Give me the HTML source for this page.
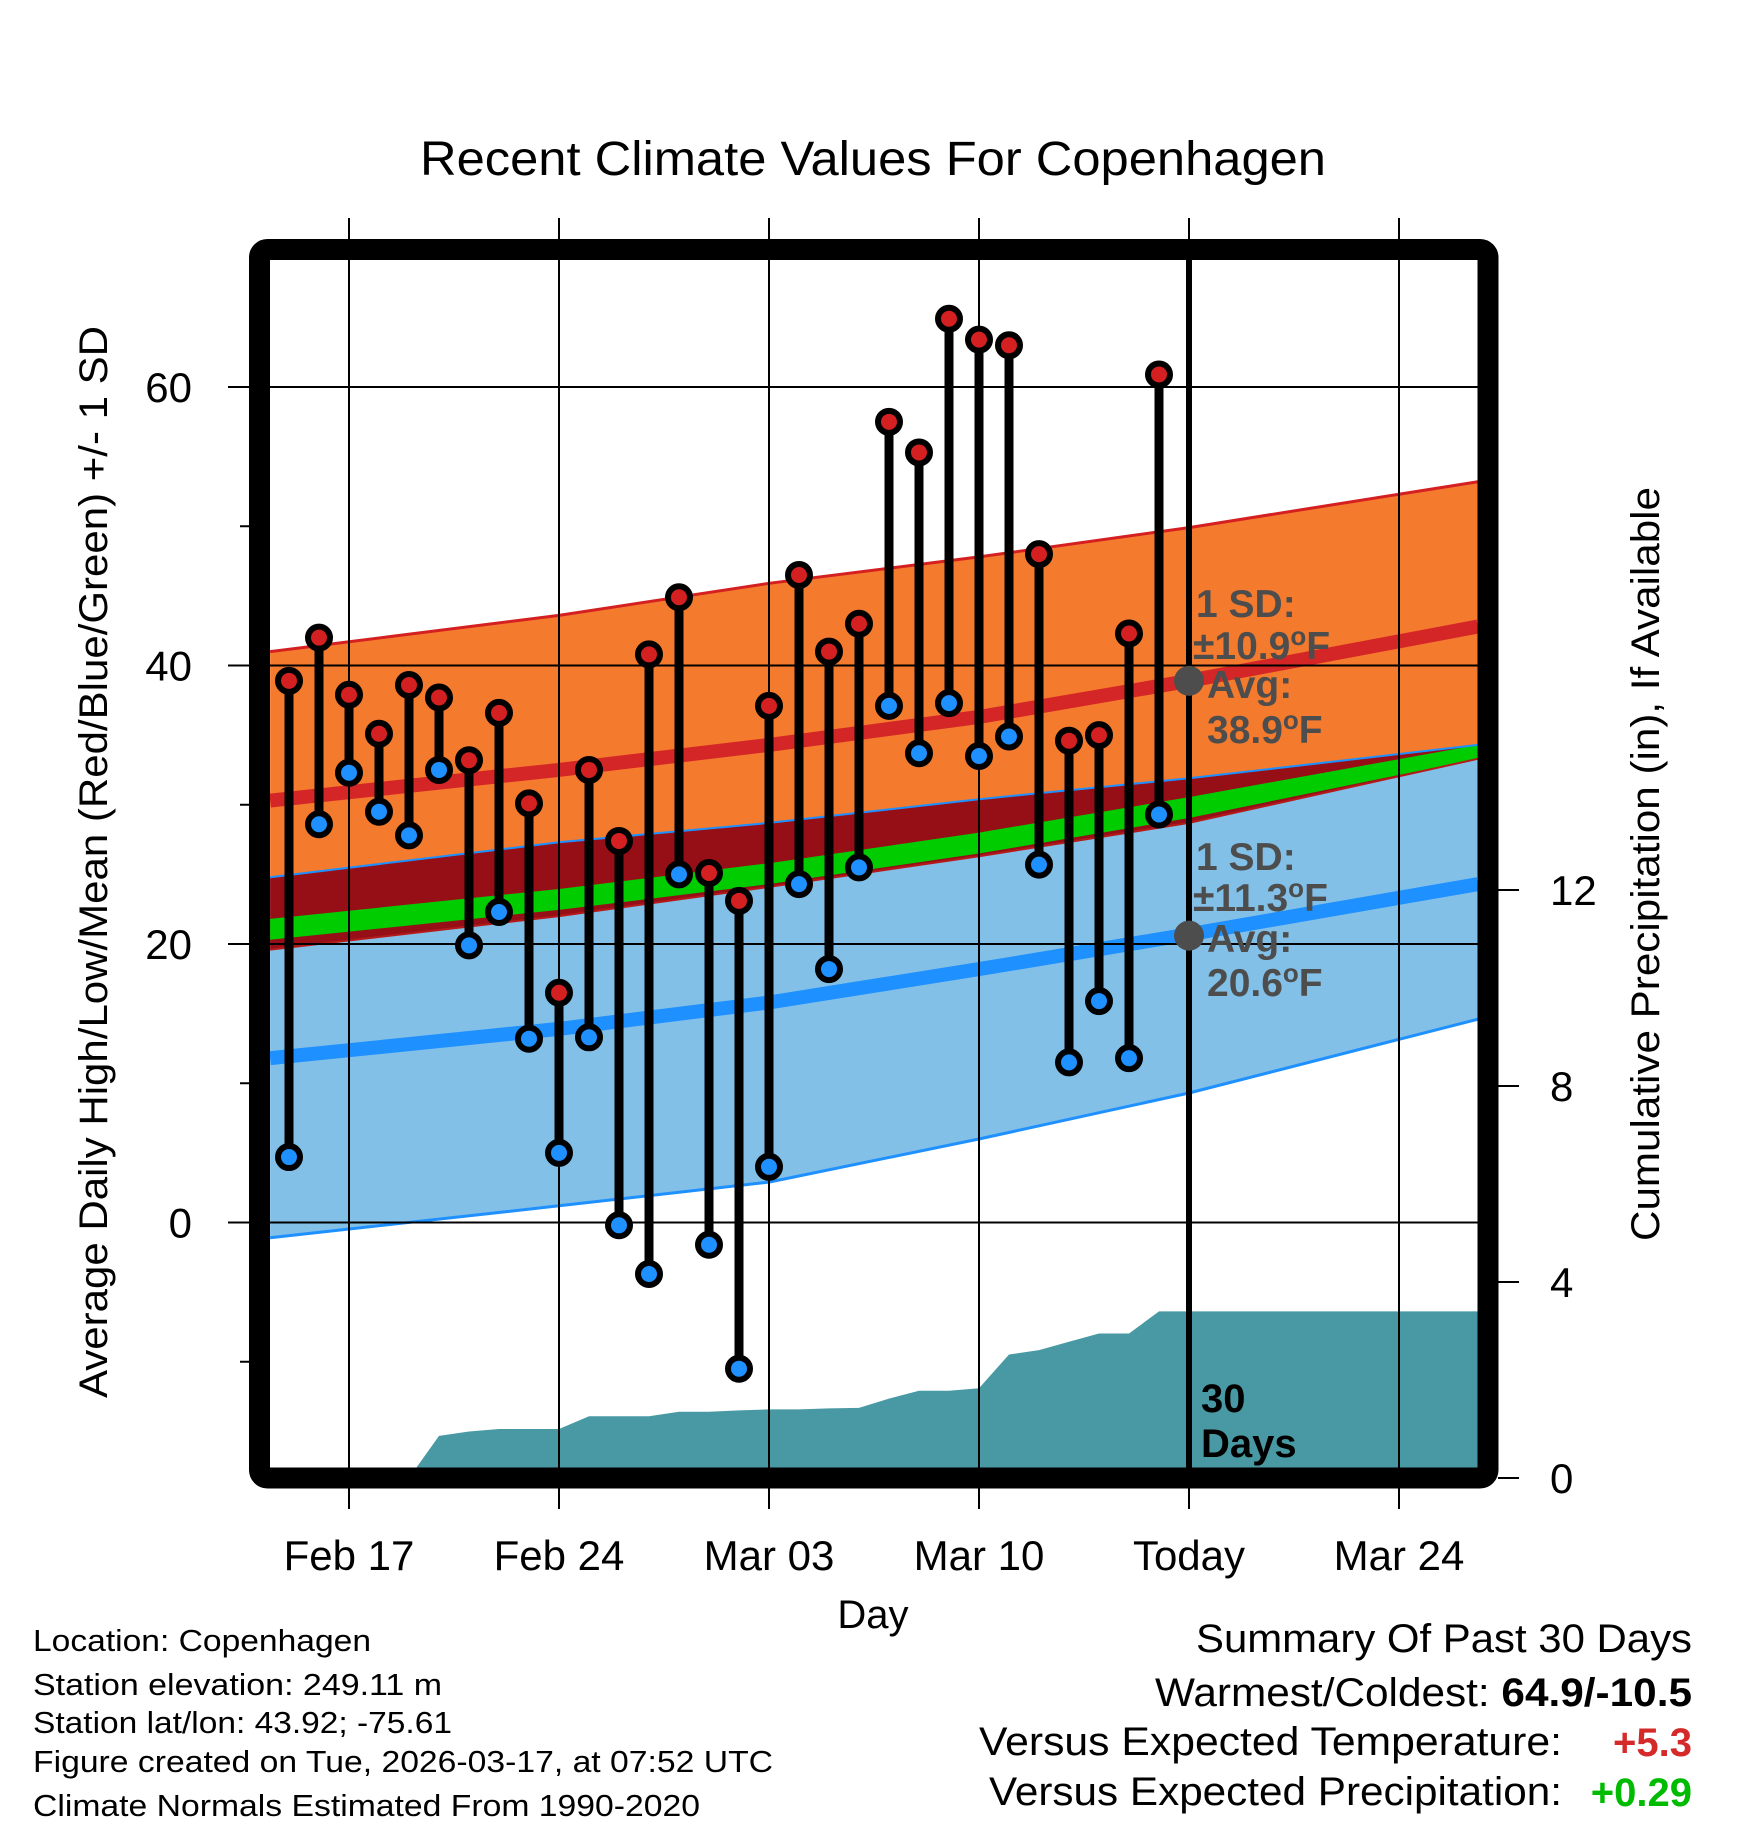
<!DOCTYPE html>
<html><head><meta charset="utf-8"><style>
html,body{margin:0;padding:0;background:#fff;}
svg{display:block;font-family:"Liberation Sans",Arial,sans-serif;}
</style></head><body>
<svg id="chart" width="1748" height="1828" viewBox="0 0 1748 1828" xmlns="http://www.w3.org/2000/svg">
<defs><clipPath id="plotclip"><rect x="270" y="260" width="1208" height="1208"/></clipPath></defs>
<rect x="0" y="0" width="1748" height="1828" fill="#fff"/>
<text x="873" y="175" font-size="48" text-anchor="middle" textLength="906" lengthAdjust="spacingAndGlyphs">Recent Climate Values For Copenhagen</text>
<g id="grid"></g>
<g id="plot" clip-path="url(#plotclip)"></g>
<g id="marks"></g>
<g id="annot">
<g fill="#4d4d4d" font-weight="bold" font-size="39">
<text x="1196" y="617">1 SD:</text>
<text x="1193" y="659">±10.9<tspan dy="-14" font-size="26">o</tspan><tspan dy="14">F</tspan></text>
<text x="1207" y="698">Avg:</text>
<text x="1207" y="743">38.9<tspan dy="-14" font-size="26">o</tspan><tspan dy="14">F</tspan></text>
<text x="1196" y="870">1 SD:</text>
<text x="1193" y="911">±11.3<tspan dy="-14" font-size="26">o</tspan><tspan dy="14">F</tspan></text>
<text x="1207" y="952">Avg:</text>
<text x="1207" y="996">20.6<tspan dy="-14" font-size="26">o</tspan><tspan dy="14">F</tspan></text>
</g>
<text x="1201" y="1412" font-size="40" font-weight="bold">30</text>
<text x="1201" y="1457" font-size="40" font-weight="bold">Days</text>
</g>
<rect x="259.5" y="249.5" width="1228.5" height="1228.5" rx="8" fill="none" stroke="#000" stroke-width="21"/>
<g id="axes"></g>
<text x="873" y="1628" font-size="40" text-anchor="middle">Day</text>
<text transform="translate(107,862) rotate(-90)" font-size="40" text-anchor="middle" textLength="1072" lengthAdjust="spacingAndGlyphs">Average Daily High/Low/Mean (Red/Blue/Green) +/- 1 SD</text>
<text transform="translate(1659,864) rotate(-90)" font-size="40" text-anchor="middle" textLength="754" lengthAdjust="spacingAndGlyphs">Cumulative Precipitation (in), If Available</text>
<g font-size="31">
<text x="33" y="1651" textLength="338" lengthAdjust="spacingAndGlyphs">Location: Copenhagen</text>
<text x="33" y="1695" textLength="409" lengthAdjust="spacingAndGlyphs">Station elevation: 249.11 m</text>
<text x="33" y="1733" textLength="419" lengthAdjust="spacingAndGlyphs">Station lat/lon: 43.92; -75.61</text>
<text x="33" y="1772" textLength="740" lengthAdjust="spacingAndGlyphs">Figure created on Tue, 2026-03-17, at 07:52 UTC</text>
<text x="33" y="1816" textLength="667" lengthAdjust="spacingAndGlyphs">Climate Normals Estimated From 1990-2020</text>
</g>
<g font-size="40">
<text x="1196" y="1652" textLength="496" lengthAdjust="spacingAndGlyphs">Summary Of Past 30 Days</text>
<text x="1155" y="1706" textLength="537" lengthAdjust="spacingAndGlyphs">Warmest/Coldest: <tspan font-weight="bold">64.9/-10.5</tspan></text>
<text x="979" y="1755" textLength="583" lengthAdjust="spacingAndGlyphs">Versus Expected Temperature:</text>
<text x="1692" y="1756" text-anchor="end" font-weight="bold" fill="#d42a2a">+5.3</text>
<text x="989" y="1805" textLength="573" lengthAdjust="spacingAndGlyphs">Versus Expected Precipitation:</text>
<text x="1692" y="1806" text-anchor="end" font-weight="bold" fill="#00bb00">+0.29</text>
</g>
</svg>
<script>
// day offsets measured from Feb 17
const obsDays = [-2,-1,0,1,2,3,4,5,6,7,8,9,10,11,12,13,14,15,16,17,18,19,20,21,22,23,24,25,26,27];
const highs = [38.9,42.0,37.9,35.1,38.6,37.7,33.2,36.6,30.1,16.5,32.5,27.4,40.8,44.9,25.1,23.1,37.1,46.5,41.0,43.0,57.5,55.3,64.9,63.4,63.0,48.0,34.6,35.0,42.3,60.9];
const lows = [4.7,28.6,32.3,29.5,27.8,32.5,19.9,22.3,13.2,5.0,13.3,-0.2,-3.7,25.0,-1.6,-10.5,4.0,24.3,18.2,25.5,37.1,33.7,37.3,33.5,34.9,25.7,11.5,15.9,11.8,29.3];
const normDays = [-2.63,7,14,21,28,37.63];
const highMean = [30.3,32.5,34.3,36.3,38.9,42.8];
const highUpper = [41.0,43.6,45.9,47.8,49.9,53.2];
const highLower = [19.6,22.0,24.1,26.3,28.7,33.3];
const lowMean = [11.8,13.9,15.8,18.2,20.7,24.3];
const lowUpper = [24.8,27.3,28.7,30.4,31.9,34.3];
const lowLower = [-1.1,1.2,2.9,6.0,9.3,14.6];
const precipDays = [-2,-1,0,1,2,3,4,5,6,7,8,9,10,11,12,13,14,15,16,17,18,19,20,21,22,23,24,25,26,27,37.63];
const precipCum = [0,0,0,0,0,0.86,0.95,1.0,1.0,1.0,1.26,1.26,1.26,1.35,1.35,1.38,1.40,1.40,1.42,1.43,1.62,1.78,1.78,1.83,2.52,2.61,2.78,2.95,2.95,3.40,3.40];
const xTickDays = [0,7,14,21,28,35];
const xTickLabels = ["Feb 17","Feb 24","Mar 03","Mar 10","Today","Mar 24"];
const yTicks = [0,20,40,60];
const yMinor = [-10,10,30,50];
const y2Ticks = [0,4,8,12];
const todayDay = 28;
const todayHigh = 38.9, todayLow = 20.6;

const NS="http://www.w3.org/2000/svg";
const X = d => 349 + 30*d;
const Y = t => 1222.5 - 13.925*t;
const YP = p => 1478 - 49*p;
function mk(tag, attrs, parent){const e=document.createElementNS(NS,tag);for(const k in attrs)e.setAttribute(k,attrs[k]);parent.appendChild(e);return e;}
const grid=document.getElementById('grid'), plot=document.getElementById('plot'), marks=document.getElementById('marks'), axes=document.getElementById('axes');
function line(a){return a.map((v,i)=>(i?'L':'M')+X(normDays[i]).toFixed(1)+','+Y(v).toFixed(1)).join(' ');}
function band(up,lo){return line(up)+' '+lo.map((v,i)=>lo.length-1-i).map(j=>'L'+X(normDays[j]).toFixed(1)+','+Y(lo[j]).toFixed(1)).join(' ')+' Z';}

let e;
e=mk('path',{d:band(highUpper,highLower),fill:'#f47a2e'},plot);


e=mk('path',{d:band(lowUpper,lowLower),fill:'#82c0e8'},plot);


e=mk('path',{d:band(lowUpper,highLower),fill:'#960f17'},plot);


const meanUp = highMean.map((v,i)=>(v+lowMean[i])/2+0.75);
const meanLo = highMean.map((v,i)=>Math.max((v+lowMean[i])/2-0.75, highLower[i]));
e=mk('path',{d:band(meanUp,meanLo),fill:'#00cc00'},plot);


[[highUpper,'#d42020',3],[highLower,'#b51a1a',2],[lowUpper,'#1e90ff',2],[lowLower,'#1e90ff',3]].forEach(s=>{
 const p=mk('path',{d:line(s[0]),fill:'none',stroke:s[1],'stroke-width':s[2]},plot);
 
 
});
e=mk('path',{d:line(highMean),fill:'none',stroke:'#d42626','stroke-width':14},plot);


e=mk('path',{d:line(lowMean),fill:'none',stroke:'#1e90ff','stroke-width':14},plot);


let pd='M'+X(precipDays[0])+','+1470;
precipDays.forEach((d,i)=>{pd+=' L'+X(d).toFixed(1)+','+YP(precipCum[i]).toFixed(1);});
pd+=' L'+X(precipDays[precipDays.length-1])+',1470 Z';
e=mk('path',{d:pd,fill:'#4899a3'},plot);


yTicks.forEach(t=>{
 const g=mk('line',{x1:228,x2:1478,y1:Y(t),y2:Y(t),stroke:'#000','stroke-width':2},grid);
 
 
});
xTickDays.forEach(d=>{
 const g=mk('line',{x1:X(d),x2:X(d),y1:218,y2:1509,stroke:'#000','stroke-width':2},grid);
 
 
});
plot.parentNode.insertBefore(grid, marks);
e=mk('line',{x1:X(todayDay),x2:X(todayDay),y1:260,y2:1468,stroke:'#000','stroke-width':6},marks);


obsDays.forEach((d,i)=>{
 const l=mk('line',{x1:X(d),x2:X(d),y1:Y(highs[i]),y2:Y(lows[i]),stroke:'#000','stroke-width':9},marks);
 
 
});
obsDays.forEach((d,i)=>{
 const h=mk('circle',{cx:X(d),cy:Y(highs[i]),r:11,fill:'#d42020',stroke:'#000','stroke-width':6},marks);
 
 
 const lo=mk('circle',{cx:X(d),cy:Y(lows[i]),r:11,fill:'#1e90ff',stroke:'#000','stroke-width':6},marks);
 
 
});
e=mk('circle',{cx:X(todayDay),cy:Y(todayHigh),r:15,fill:'#4d4d4d'},marks);


e=mk('circle',{cx:X(todayDay),cy:Y(todayLow),r:15,fill:'#4d4d4d'},marks);


yTicks.forEach(t=>{
 const tx=mk('text',{x:192,y:Y(t)+15,'font-size':42,'text-anchor':'end'},axes);
 tx.textContent=t;
 
 
});
yMinor.forEach(t=>{
 const m=mk('line',{x1:240,x2:250,y1:Y(t),y2:Y(t),stroke:'#000','stroke-width':2},axes);
 
 
});
y2Ticks.forEach(p=>{
 const m=mk('line',{x1:1498,x2:1519,y1:YP(p),y2:YP(p),stroke:'#000','stroke-width':2},axes);
 
 
 const tx=mk('text',{x:1550,y:YP(p)+15,'font-size':42},axes);
 tx.textContent=p;
 
 
});
xTickDays.forEach((d,i)=>{
 const tx=mk('text',{x:X(d),y:1570,'font-size':42,'text-anchor':'middle'},axes);
 tx.textContent=xTickLabels[i];
 
 
});
</script>
</body></html>
